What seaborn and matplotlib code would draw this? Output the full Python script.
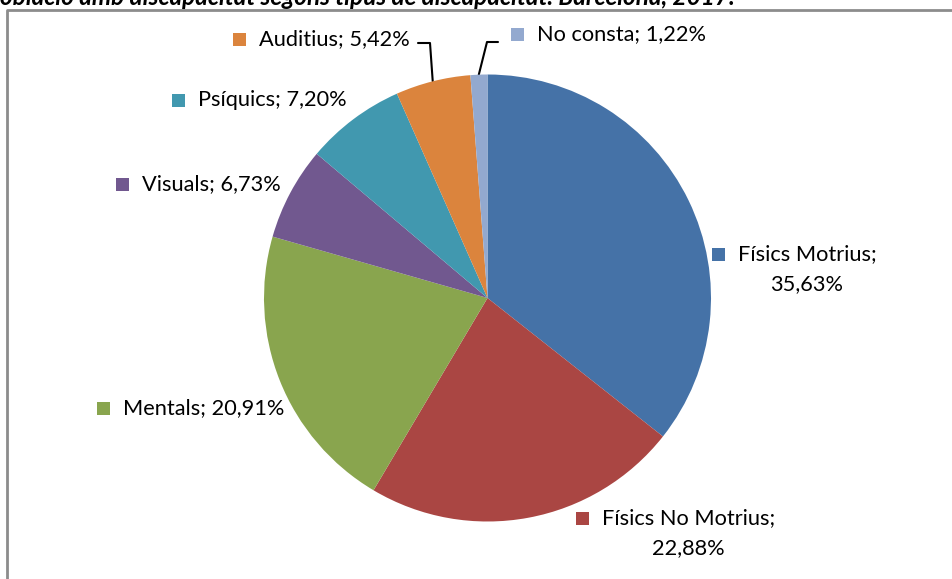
import numpy as np
import seaborn as sns
import matplotlib.pyplot as plt
from matplotlib.patches import Rectangle
from matplotlib.lines import Line2D

# Dades: població amb discapacitat segons tipus (%)
categories = ['Físics Motrius', 'Físics No Motrius', 'Mentals', 'Visuals',
              'Psíquics', 'Auditius', 'No consta']
percentatges = [35.63, 22.88, 20.91, 6.73, 7.20, 5.42, 1.22]
colors = ['#4572A7', '#AA4643', '#89A54E', '#71588F', '#4198AF', '#DB843D', '#93A9CF']
titol = 'oblació amb discapacitat segons tipus de discapacitat. Barcelona, 2017.'

sns.set_theme(style='white')
plt.rcParams['font.family'] = ['Lato', 'DejaVu Sans']

W, H = 953, 579
fig = plt.figure(figsize=(W / 100, H / 100), dpi=100)
ax = fig.add_axes([0, 0, 1, 1])
ax.set_xlim(0, W)
ax.set_ylim(H, 0)
ax.axis('off')

cx, cy, r = 487.5, 298, 223.5

# pastís en uns eixos auxiliars amb l'eix y normal
pax = fig.add_axes([0, 0, 1, 1])
pax.pie(percentatges, colors=colors, startangle=90, counterclock=False,
        center=(cx, H - cy), radius=r, frame=True,
        wedgeprops=dict(linewidth=0))
pax.set_xlim(0, W)
pax.set_ylim(0, H)
pax.axis('off')

def fmt(v):
    return f'{v:.2f}'.replace('.', ',') + '%'

fs = 15.7
sq = 13
# posicions de les etiquetes (x esquerra del quadrat, y centre)
pos = {
    'Físics Motrius': (712, 254),
    'Físics No Motrius': (576, 518),
    'Mentals': (97, 408),
    'Visuals': (116, 184),
    'Psíquics': (172, 100),
    'Auditius': (233, 39),
    'No consta': (511, 34),
}
dues_linies = {'Físics Motrius': 807, 'Físics No Motrius': 688}

for cat, val, col in zip(categories, percentatges, colors):
    x, y = pos[cat]
    ax.add_patch(Rectangle((x, y - sq / 2), sq, sq, color=col, lw=0))
    if cat in dues_linies:
        ax.text(x + 26, y, cat + ';', fontsize=fs, va='center', ha='left', color='black')
        ax.text(dues_linies[cat], y + 30, fmt(val), fontsize=fs, va='center',
                ha='center', color='black')
    else:
        ax.text(x + 26, y, f'{cat}; {fmt(val)}', fontsize=fs, va='center',
                ha='left', color='black')

# línies guia per a les porcions petites
cum = np.cumsum([0] + percentatges)
def punt_mig(i, rr):
    ang = np.deg2rad((cum[i] + percentatges[i] / 2) / 100 * 360)
    return cx + rr * np.sin(ang), cy - rr * np.cos(ang)

px, py = punt_mig(5, r)
ax.add_line(Line2D([418, 430, px], [43, 43, py], color='black', lw=1.5))
px, py = punt_mig(6, r)
ax.add_line(Line2D([498, 487, px], [42, 42, py], color='black', lw=1.5))

# marc del gràfic
ax.add_line(Line2D([7, 7, W], [H, 10, 10], color='#8c8c8c', lw=2))

# títol (retallat a dalt, com a l'original)
ax.text(0, 5, titol, fontsize=17.5, style='italic', fontweight='bold',
        va='baseline', ha='left', color='black')

fig.savefig('out.png', dpi=100)
